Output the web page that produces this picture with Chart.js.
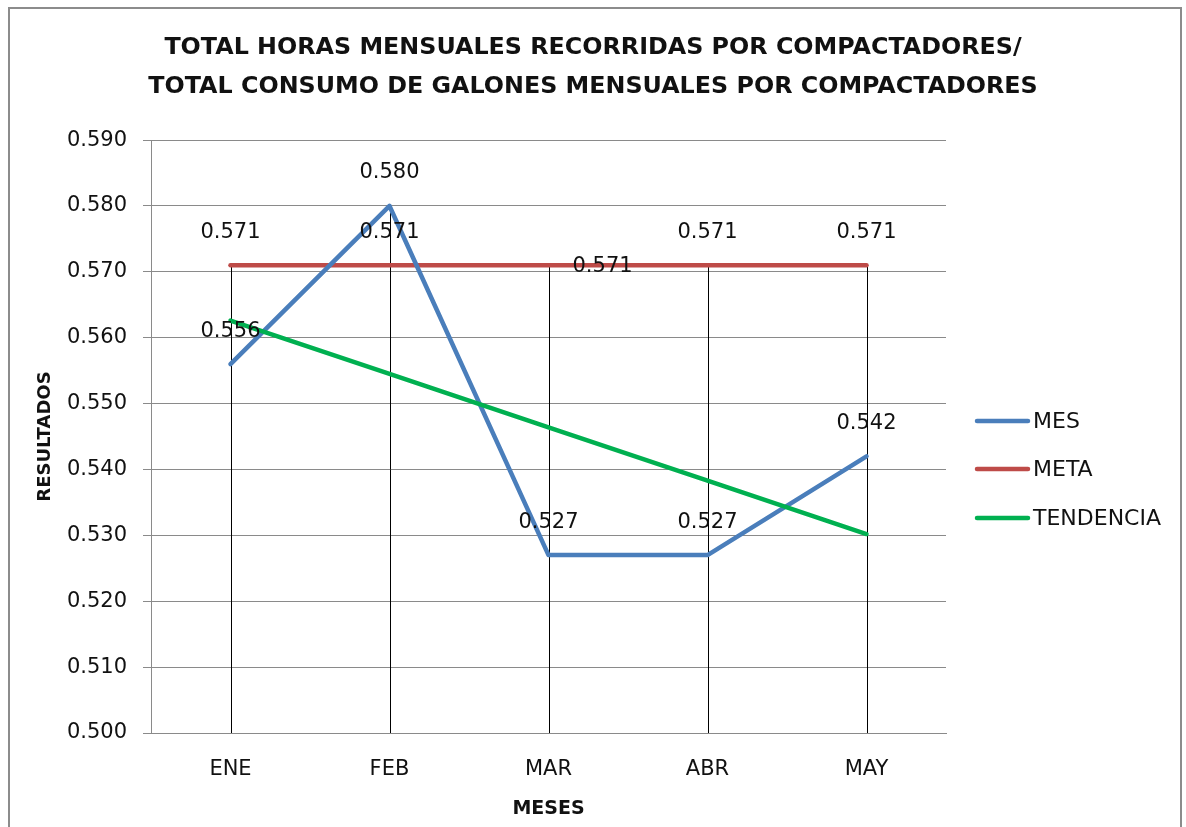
<!DOCTYPE html>
<html>
<head>
<meta charset="utf-8">
<title>Horas / Galones compactadores</title>
<script src="https://cdn.jsdelivr.net/npm/chart.js@4.4.1/dist/chart.umd.min.js"></script>
<style>
  html, body { margin: 0; padding: 0; background: #fff; }
  #wrap { position: relative; width: 1186px; height: 827px; }
</style>
</head>
<body>
<div id="wrap"><canvas id="myChart"></canvas></div>
<script>
// data
const months = ['ENE', 'FEB', 'MAR', 'ABR', 'MAY'];
const mesValues = [0.556, 0.580, 0.527, 0.527, 0.542];
const metaValues = [0.571, 0.571, 0.571, 0.571, 0.571];
const tendenciaValues = [0.5626, 0.5545, 0.5464, 0.5383, 0.5302];
const yTickValues = [0.500, 0.510, 0.520, 0.530, 0.540, 0.550, 0.560, 0.570, 0.580, 0.590];
const seriesNames = ['MES', 'META', 'TENDENCIA'];

const FONT = "'DejaVu Sans', sans-serif";
const TEXT = '#111';
const GRID = '#8a8a8a';
const colors = ['#4a7ebb', '#be4b48', '#00b050'];

// grey frame round the whole chart
const framePlugin = {
    id: 'frame',
    beforeDraw(chart) {
        const ctx = chart.ctx;
        ctx.save();
        ctx.fillStyle = '#fff';
        ctx.fillRect(0, 0, chart.width, chart.height);
        ctx.strokeStyle = '#8c8c8c';
        ctx.lineWidth = 2;
        ctx.strokeRect(9, 8, 1172, 900);
        ctx.restore();
    }
};

// black drop lines from the highest point down to the axis
const dropLinesPlugin = {
    id: 'dropLines',
    beforeDatasetsDraw(chart) {
        const ctx = chart.ctx;
        const xs = chart.scales.x;
        const ys = chart.scales.y;
        ctx.save();
        ctx.strokeStyle = '#000';
        ctx.lineWidth = 1;
        for (let i = 0; i < months.length; i++) {
            const top = Math.max(mesValues[i], metaValues[i], tendenciaValues[i]);
            const x = Math.round(xs.getPixelForValue(i)) + 0.5;
            ctx.beginPath();
            ctx.moveTo(x, ys.getPixelForValue(top));
            ctx.lineTo(x, chart.chartArea.bottom);
            ctx.stroke();
        }
        ctx.restore();
    }
};

// value labels for MES and META
const valueLabelsPlugin = {
    id: 'valueLabels',
    afterDatasetsDraw(chart) {
        const ctx = chart.ctx;
        ctx.save();
        ctx.font = '21px ' + FONT;
        ctx.fillStyle = TEXT;
        ctx.textBaseline = 'middle';
        [0, 1].forEach(di => {
            const meta = chart.getDatasetMeta(di);
            const values = chart.data.datasets[di].data;
            meta.data.forEach((pt, i) => {
                const label = values[i].toFixed(3);
                if (di === 1 && i === 2) {
                    // this one sits to the right of the point
                    ctx.textAlign = 'left';
                    ctx.fillText(label, pt.x + 24, pt.y + 1);
                } else {
                    ctx.textAlign = 'center';
                    ctx.fillText(label, pt.x, pt.y - 33);
                }
            });
        });
        ctx.restore();
    }
};

// legend on the right, drawn like the Excel one
const sideLegendPlugin = {
    id: 'sideLegend',
    afterDraw(chart) {
        const ctx = chart.ctx;
        const rowsY = [421, 469, 518];
        ctx.save();
        ctx.font = '22px ' + FONT;
        ctx.textBaseline = 'middle';
        ctx.textAlign = 'left';
        seriesNames.forEach((name, i) => {
            ctx.strokeStyle = colors[i];
            ctx.lineWidth = 4.5;
            ctx.lineCap = 'round';
            ctx.beginPath();
            ctx.moveTo(977, rowsY[i]);
            ctx.lineTo(1028, rowsY[i]);
            ctx.stroke();
            ctx.fillStyle = TEXT;
            ctx.fillText(name, 1033, rowsY[i] + 1);
        });
        ctx.restore();
    }
};

const ctx = document.getElementById('myChart').getContext('2d');

new Chart(ctx, {
    type: 'line',
    data: {
        labels: months,
        datasets: [
            {
                label: seriesNames[0],
                data: mesValues,
                borderColor: colors[0],
                backgroundColor: colors[0],
                borderWidth: 4.5,
                order: 2
            },
            {
                label: seriesNames[1],
                data: metaValues,
                borderColor: colors[1],
                backgroundColor: colors[1],
                borderWidth: 4.5,
                order: 3
            },
            {
                label: seriesNames[2],
                data: tendenciaValues,
                borderColor: colors[2],
                backgroundColor: colors[2],
                borderWidth: 4.5,
                order: 1
            }
        ]
    },
    options: {
        responsive: true,
        maintainAspectRatio: false,
        animation: false,
        devicePixelRatio: 1,
        layout: { padding: 0 },
        elements: {
            point: { radius: 0, hoverRadius: 0 },
            line: { tension: 0, borderCapStyle: 'round', borderJoinStyle: 'round' }
        },
        plugins: {
            legend: { display: false },
            tooltip: { enabled: false },
            title: {
                display: true,
                text: ['TOTAL HORAS MENSUALES RECORRIDAS POR COMPACTADORES/',
                       'TOTAL CONSUMO DE GALONES MENSUALES POR COMPACTADORES'],
                color: TEXT,
                font: { family: FONT, size: 23.8, weight: 'bold', lineHeight: 1.64 },
                padding: { top: 28, bottom: 34 }
            }
        },
        scales: {
            x: {
                offset: true,
                grid: { display: false, drawTicks: false },
                border: { display: true, color: GRID, width: 1 },
                ticks: {
                    color: TEXT,
                    padding: 24,
                    font: { family: FONT, size: 21 }
                },
                title: {
                    display: true,
                    text: 'MESES',
                    color: TEXT,
                    font: { family: FONT, size: 19, weight: 'bold' },
                    padding: { top: 0, bottom: 7 }
                },
                afterFit(scale) { scale.height = 94; }
            },
            y: {
                min: 0.5,
                max: 0.59,
                grid: { color: GRID, lineWidth: 1, drawTicks: true, tickLength: 8 },
                border: { display: true, color: GRID, width: 1 },
                ticks: {
                    color: TEXT,
                    padding: 16,
                    font: { family: FONT, size: 21 },
                    callback: v => Number(v).toFixed(3)
                },
                afterBuildTicks(scale) {
                    scale.ticks = yTickValues.map(v => ({ value: v }));
                },
                title: {
                    display: true,
                    text: 'RESULTADOS',
                    color: TEXT,
                    font: { family: FONT, size: 18, weight: 'bold' },
                    padding: { top: 35, bottom: 0 }
                },
                afterFit(scale) { scale.width = 151; }
            },
            // empty right-hand axis that only keeps room for the legend
            side: {
                type: 'linear',
                position: 'right',
                display: true,
                grid: { display: false, drawTicks: false },
                border: { display: false },
                ticks: { display: false },
                afterFit(scale) { scale.width = 240; }
            }
        }
    },
    plugins: [framePlugin, dropLinesPlugin, valueLabelsPlugin, sideLegendPlugin]
});
</script>
</body>
</html>
